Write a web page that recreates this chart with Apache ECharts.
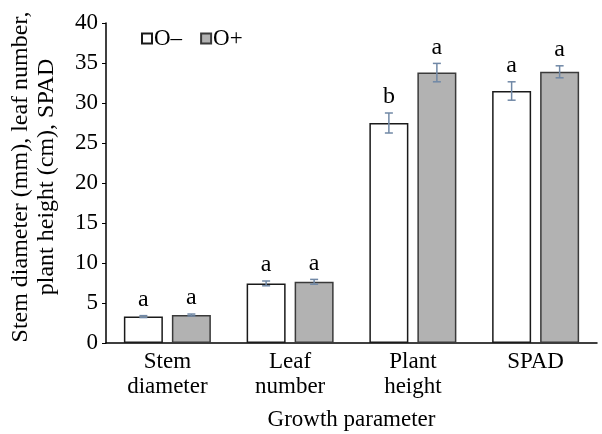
<!DOCTYPE html>
<html><head><meta charset="utf-8">
<script src="https://cdn.jsdelivr.net/npm/echarts@6/dist/echarts.min.js"></script>
<style>html,body{margin:0;padding:0;background:#fff}#c{width:602px;height:434px}</style>
</head><body><div id="c"></div>
<script>
var categories = ['Stem\ndiameter', 'Leaf\nnumber', 'Plant\nheight', 'SPAD'];
var seriesNames = ['O\u2013', 'O+'];
var valuesMinus = [3.3, 7.45, 27.5, 31.5];
var valuesPlus = [3.5, 7.65, 33.8, 33.9];
var errMinus = [0.12, 0.3, 1.25, 1.15];
var errPlus = [0.12, 0.3, 1.15, 0.75];
var lettersMinus = ['a', 'a', 'b', 'a'];
var lettersPlus = ['a', 'a', 'a', 'a'];
var yTicks = [0, 5, 10, 15, 20, 25, 30, 35, 40];

var FONT = 'Liberation Serif';
var BAR_W = 39, BAR_GAP = 9;
var chart = echarts.init(document.getElementById('c'), null, {renderer: 'canvas'});

function errSeries(vals, errs, letters, sign) {
  var data = vals.map(function (v, i) { return [i, v, errs[i]]; });
  return {
    type: 'custom',
    silent: true,
    z: 10,
    data: data,
    encode: {x: 0, y: 1},
    renderItem: function (params, api) {
      var i = api.value(0), v = api.value(1), e = api.value(2);
      var letter = letters[params.dataIndex];
      var off = sign * (BAR_W + BAR_GAP) / 2;
      var top = api.coord([i, v + e]);
      var bot = api.coord([i, v - e]);
      var x = top[0] + off;
      var cap = 4;
      var st = {stroke: '#7088a6', lineWidth: 1.5};
      return {
        type: 'group',
        children: [
          {type: 'line', shape: {x1: x, y1: top[1], x2: x, y2: bot[1]}, style: st},
          {type: 'line', shape: {x1: x - cap, y1: top[1], x2: x + cap, y2: top[1]}, style: st},
          {type: 'line', shape: {x1: x - cap, y1: bot[1], x2: x + cap, y2: bot[1]}, style: st},
          {type: 'text', style: {text: letter, x: x, y: top[1] - 4, textAlign: 'center', textVerticalAlign: 'bottom',
            font: '24px "' + FONT + '"', fill: '#000'}}
        ]
      };
    }
  };
}

chart.setOption({
  animation: false,
  backgroundColor: '#fff',
  textStyle: {fontFamily: FONT, color: '#000'},
  grid: {left: 106, right: 5, top: 23, bottom: 91, containLabel: false, outerBoundsMode: 'none'},
  legend: {
    left: 136, top: 22, itemWidth: 10, itemHeight: 10, itemGap: 18,
    icon: 'rect',
    textStyle: {fontFamily: FONT, fontSize: 23, color: '#000', padding: [0, 0, 0, -3]},
    data: seriesNames
  },
  xAxis: {
    type: 'category', data: categories,
    name: 'Growth parameter', nameLocation: 'middle', nameGap: 65,
    nameTextStyle: {fontFamily: FONT, fontSize: 23, color: '#000'},
    axisLine: {lineStyle: {color: '#000', width: 1.5}},
    axisTick: {inside: true, length: 4, lineStyle: {color: '#000'}},
    axisLabel: {fontFamily: FONT, fontSize: 23, color: '#000', lineHeight: 25, margin: 6}
  },
  yAxis: {
    type: 'value', min: 0, max: 40, interval: 5,
    name: 'Stem diameter (mm), leaf number,\nplant height (cm), SPAD',
    nameLocation: 'middle', nameGap: 46, nameRotate: 90,
    nameTextStyle: {fontFamily: FONT, fontSize: 24, color: '#000', lineHeight: 26, padding: [0, 0, 0, 12]},
    axisLine: {show: true, lineStyle: {color: '#000', width: 1.5}},
    axisTick: {show: true, length: 4, lineStyle: {color: '#000'}},
    splitLine: {show: false},
    axisLabel: {fontFamily: FONT, fontSize: 23, color: '#000', margin: 8,
      formatter: function (v) { return yTicks.indexOf(v) >= 0 ? String(v) : ''; }}
  },
  series: [
    {name: seriesNames[0], type: 'bar', data: valuesMinus, barWidth: BAR_W, barGap: (BAR_GAP / BAR_W * 100) + '%',
      itemStyle: {color: '#fff', borderColor: '#1a1a1a', borderWidth: 1.5}},
    {name: seriesNames[1], type: 'bar', data: valuesPlus, barWidth: BAR_W,
      itemStyle: {color: '#b2b2b2', borderColor: '#3a3a3a', borderWidth: 1.5}},
    errSeries(valuesMinus, errMinus, lettersMinus, -1),
    errSeries(valuesPlus, errPlus, lettersPlus, 1)
  ]
});
</script></body></html>
